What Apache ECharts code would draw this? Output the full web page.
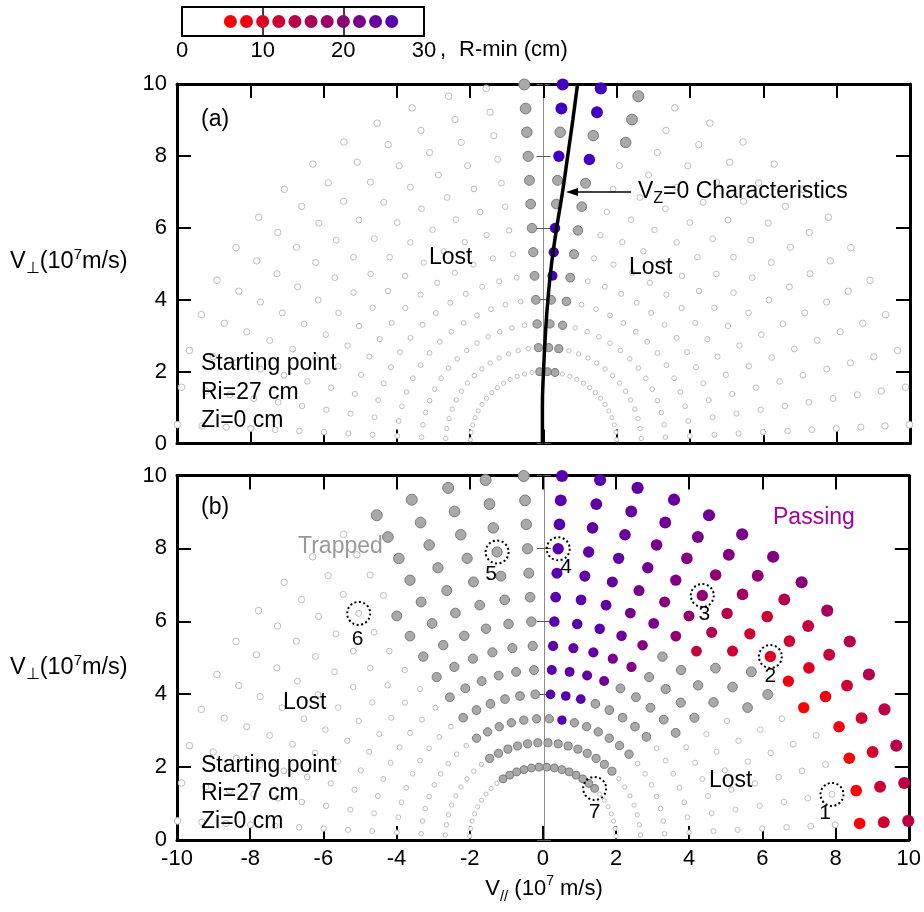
<!DOCTYPE html>
<html>
<head>
<meta charset="utf-8">
<title>Orbit classification in velocity space</title>
<script src="https://cdn.jsdelivr.net/npm/echarts@6.0.0/dist/echarts.min.js"></script>
<style>
  html, body { margin: 0; padding: 0; background: #fff; }
  #chart { width: 924px; height: 912px; }
</style>
</head>
<body>
<div id="chart"></div>
<script>
// ---------------- data ----------------
// launch speeds (10^7 m/s) and pitch angles (deg) of the test orbits
const speeds = [2.00, 2.67, 3.33, 4.00, 4.67, 5.33, 6.00, 6.67, 7.33, 8.00, 8.67, 9.33, 10.00];
const pitchAngles = [3, 9, 15, 21, 27, 33, 39, 45, 51, 57, 63, 69, 75, 81, 87,
                     93, 99, 105, 111, 117, 123, 129, 135, 141, 147, 153, 159, 165, 171, 177];

// R-min values shown in the colour key (cm)
const keyRmin = [6, 8, 10, 12, 14, 16, 18, 20, 22, 24, 26];

// (a) trapped orbits: [speed, [from, to] pitch-angle ranges ...]
const trappedA = [
  [10.00, [75, 75], [93, 93]],
  [9.33, [75, 75], [93, 93]],
  [8.67, [75, 93]],
  [8.00, [93, 93]],
  [7.33, [81, 93]],
  [6.67, [81, 93]],
  [6.00, [81, 81], [93, 93]],
  [5.33, [81, 81], [93, 93]],
  [4.67, [81, 81], [93, 93]],
  [4.00, [81, 93]],
  [3.33, [81, 93]],
  [2.67, [81, 93]],
  [2.00, [81, 93]]
];
// (a) passing orbits: [speed, first pitch angle, R-min (cm) for consecutive pitch angles]
const passingA = [
  [10.00, 81, [27, 27]],
  [9.33, 81, [27, 27]],
  [8.00, 81, [27, 27]],
  [6.00, 87, [27]],
  [5.33, 87, [27]],
  [4.67, 87, [27]]
];

// (b) trapped orbits
const trappedB = [
  [10.00, [93, 117]],
  [9.33, [93, 117]],
  [8.67, [93, 117]],
  [8.00, [93, 117]],
  [7.33, [33, 39], [93, 123]],
  [6.67, [33, 45], [93, 123]],
  [6.00, [39, 57], [93, 123]],
  [5.33, [39, 57], [93, 123]],
  [4.67, [39, 63], [93, 123]],
  [4.00, [45, 69], [93, 123]],
  [3.33, [45, 75], [87, 123]],
  [2.67, [45, 123]],
  [2.00, [45, 123]]
];
// (b) passing orbits
const passingB = [
  [10.00, 3, [14, 14, 15, 14, 15, 15, 17, 20, 21, 22, 23, 24, 25, 26, 26]],
  [9.33, 3, [12, 12, 11, 12, 12, 13, 13, 15, 19, 21, 22, 23, 24, 25, 26]],
  [8.67, 3, [6, 6, 6, 7, 8, 10, 12, 12, 17, 19, 21, 22, 24, 25, 26]],
  [8.00, 27, [6, 8, 10, 12, 15, 19, 21, 23, 25, 25, 26]],
  [7.33, 45, [12, 15, 19, 20, 22, 25, 25, 26]],
  [6.67, 51, [13, 19, 22, 22, 25, 26, 26]],
  [6.00, 63, [21, 24, 26, 26, 26]],
  [5.33, 63, [21, 22, 25, 25, 26]],
  [4.67, 69, [23, 25, 25, 26]],
  [4.00, 75, [26, 26, 26]],
  [3.33, 81, [26]]
];

// V_Z = 0 characteristic drawn in panel (a): [V//, V_perp]
const vz0Curve = [[-0.03, 0], [-0.03, 1], [0.0, 2], [0.05, 3], [0.12, 4], [0.22, 5],
                  [0.36, 6], [0.52, 7], [0.66, 8], [0.80, 9], [0.93, 10]];

// numbered example orbits in panel (b): [label, speed, pitch angle]
const exampleOrbits = [['1', 8.00, 9], ['2', 8.00, 39], ['3', 8.00, 57], ['4', 8.00, 87],
                       ['5', 8.00, 99], ['6', 8.00, 129], ['7', 2.00, 45]];

// ---------------- styling ----------------
const FONT = '"Liberation Sans", Arial, Helvetica, sans-serif';
const gridKey = { left: 182, top: 7, width: 242, height: 29 };
const gridA = { left: 177, top: 84, width: 733, height: 359.5 };
const gridB = { left: 177, top: 475.5, width: 734, height: 364.5 };

// colour ramp for R-min: red -> purple -> blue
const rminPalette = [[6, [255, 0, 0]], [26, [88, 0, 172]], [28, [48, 0, 214]]];
function rminColor(v) {
  let i = 0;
  while (i < rminPalette.length - 2 && v > rminPalette[i + 1][0]) i++;
  const [v0, c0] = rminPalette[i], [v1, c1] = rminPalette[i + 1];
  const t = Math.max(0, Math.min(1, (v - v0) / (v1 - v0)));
  return 'rgb(' + c0.map((c, k) => Math.round(c + (c1[k] - c) * t)).join(',') + ')';
}

// label offsets of the numbered example orbits (px)
const exampleLabelOffset = { '1': [-7, 19], '2': [0, 20], '3': [2, 19], '4': [8, 18],
                             '5': [-6, 22], '6': [-1, 26], '7': [0, 24] };

// ---------------- build point sets ----------------
function inRanges(ranges, a) { return ranges.some(([lo, hi]) => a >= lo && a <= hi); }
function toXY(v, deg) {
  const t = deg * Math.PI / 180;
  return [v * Math.cos(t), v * Math.sin(t)];
}
function buildPanel(trapped, passing) {
  const out = { lost: [], trapped: [], passing: [] };
  speeds.forEach(v => {
    const tr = trapped.find(e => e[0] === v);
    const ps = passing.find(e => e[0] === v);
    pitchAngles.forEach((a, j) => {
      const [x, y] = toXY(v, a);
      if (ps) {
        const k = j - pitchAngles.indexOf(ps[1]);
        if (k >= 0 && k < ps[2].length) {
          out.passing.push({ value: [x, y, v, ps[2][k]],
                             itemStyle: { color: rminColor(ps[2][k]), opacity: 1 } });
          return;
        }
      }
      if (tr && inRanges(tr.slice(1), a)) out.trapped.push([x, y, v]);
      else out.lost.push([x, y, v]);
    });
  });
  return out;
}
const panelA = buildPanel(trappedA, passingA);
const panelB = buildPanel(trappedB, passingB);

function orbitSeries(p, xi, yi) {
  return [
    { type: 'scatter', xAxisIndex: xi, yAxisIndex: yi, data: p.lost, z: 2, clip: false, silent: true,
      symbolSize: d => 3.6 + 0.3 * d[2],
      itemStyle: { color: '#ffffff', borderColor: '#bdbdbd', borderWidth: 1, opacity: 1 } },
    { type: 'scatter', xAxisIndex: xi, yAxisIndex: yi, data: p.trapped, z: 3, clip: false, silent: true,
      symbolSize: d => 7 + 0.4 * d[2],
      itemStyle: { color: '#a9a9a9', borderColor: '#7a7a7a', borderWidth: 1, opacity: 1 } },
    { type: 'scatter', xAxisIndex: xi, yAxisIndex: yi, data: p.passing, z: 4, clip: false, silent: true,
      symbolSize: d => 8 + 0.42 * d[2], itemStyle: { opacity: 1 } }
  ];
}

// ---------------- axes ----------------
function frameX(gridIndex, position, labels) {
  return {
    type: 'value', gridIndex, position, min: -10, max: 10, interval: 2,
    axisLine: { show: true, onZero: false, lineStyle: { color: '#000', width: 3 } },
    axisTick: { show: true, inside: true, length: 14, lineStyle: { color: '#000', width: 2 } },
    axisLabel: { show: labels, color: '#000', fontSize: 22, fontFamily: FONT, margin: 8 },
    splitLine: { show: false }
  };
}
function frameY(gridIndex, position, labels) {
  return {
    type: 'value', gridIndex, position, min: 0, max: 10, interval: 2,
    axisLine: { show: true, onZero: false, lineStyle: { color: '#000', width: 3 } },
    axisTick: { show: true, inside: true, length: 14, lineStyle: { color: '#000', width: 2 } },
    axisLabel: { show: labels, color: '#000', fontSize: 22, fontFamily: FONT, margin: 10 },
    splitLine: { show: false }
  };
}
// thin axis through V// = 0 with short ticks on both sides
function centreY(gridIndex, grid, inside) {
  return {
    type: 'value', gridIndex, position: 'left', offset: -grid.width / 2, min: 0, max: 10, interval: 2,
    axisLine: { show: true, onZero: false, lineStyle: { color: '#8c8c8c', width: 1 } },
    axisTick: { show: true, inside, length: 7, lineStyle: { color: '#555', width: 1 } },
    axisLabel: { show: false }, splitLine: { show: false }
  };
}

const xAxes = [
  { type: 'value', gridIndex: 0, min: 0, max: 30, interval: 10,
    axisLine: { show: false }, axisTick: { show: false },
    axisLabel: { color: '#000', fontSize: 22, fontFamily: FONT, margin: 4 },
    splitLine: { show: true, lineStyle: { color: '#000', width: 1.5 } } },
  frameX(1, 'bottom', false), frameX(1, 'top', false),
  frameX(2, 'bottom', true), frameX(2, 'top', false)
];
const yAxes = [
  { type: 'value', gridIndex: 0, min: 0, max: 1, show: false },
  frameY(1, 'left', true), frameY(1, 'right', false), centreY(1, gridA, true), centreY(1, gridA, false),
  frameY(2, 'left', true), frameY(2, 'right', false), centreY(2, gridB, true), centreY(2, gridB, false)
];

// ---------------- texts ----------------
function richStyles(size) {
  return {
    v: { fontSize: size, fontFamily: FONT, lineHeight: 30, verticalAlign: 'middle', fill: '#000' },
    sub: { fontSize: Math.round(size * 0.68), fontFamily: FONT, lineHeight: 14, verticalAlign: 'bottom', fill: '#000' },
    sup: { fontSize: Math.round(size * 0.62), fontFamily: FONT, lineHeight: 14, verticalAlign: 'top', fill: '#000' }
  };
}

function label(text, x, y, opts) {
  return { type: 'text', z: 100, silent: true,
    style: Object.assign({ text, x, y, fontSize: 23, fontFamily: FONT, fill: '#000',
      align: 'left', verticalAlign: 'middle' }, opts || {}) };
}
function richLabel(text, x, y, size, align) {
  return { type: 'text', z: 100, silent: true,
    style: { text, x, y, align: align || 'left', verticalAlign: 'middle', rich: richStyles(size) } };
}

const graphics = [
  label(',', 440, 50, { fontSize: 22 }),
  label('R-min (cm)', 459, 50, { fontSize: 22 }),
  // panel (a)
  label('(a)', 201, 120),
  label('Lost', 429, 258),
  label('Lost', 629, 268),
  label('Starting point', 201, 364),
  label('Ri=27 cm', 201, 393),
  label('Zi=0 cm', 201, 421),
  richLabel('{v|V}{sub|Z}{v|=0 Characteristics}', 638, 192, 23),
  { type: 'line', z: 100, silent: true, shape: { x1: 574, y1: 192, x2: 631, y2: 192 },
    style: { stroke: '#000', lineWidth: 1.5 } },
  { type: 'polygon', z: 100, silent: true, shape: { points: [[566, 192], [578, 188], [578, 196]] },
    style: { fill: '#000' } },
  // panel (b)
  label('(b)', 201, 508),
  label('Trapped', 298, 547, { fill: '#999999' }),
  label('Passing', 773, 518, { fill: '#a000a0' }),
  label('Lost', 283, 703),
  label('Lost', 709, 781),
  label('Starting point', 201, 766),
  label('Ri=27 cm', 201, 794),
  label('Zi=0 cm', 201, 822),
  // axis titles
  richLabel('{v|V}{sub|\u22A5}{v|(10}{sup|7}{v|m/s)}', 10, 262, 23.5),
  richLabel('{v|V}{sub|\u22A5}{v|(10}{sup|7}{v|m/s)}', 10, 668, 23.5),
  richLabel('{v|V}{sub|//}{v| (10}{sup|7}{v| m/s)}', 544, 889, 22, 'center')
];

// ---------------- series ----------------
const series = [
  { type: 'scatter', xAxisIndex: 0, yAxisIndex: 0, silent: true, z: 4,
    data: keyRmin.map(v => ({ value: [v, 0.5], itemStyle: { color: rminColor(v), opacity: 1 } })),
    symbolSize: 13 },
  ...orbitSeries(panelA, 1, 1),
  { type: 'line', xAxisIndex: 1, yAxisIndex: 1, data: vz0Curve, smooth: true, symbol: 'none',
    z: 6, silent: true, clip: false, lineStyle: { color: '#000', width: 3.5 } },
  ...orbitSeries(panelB, 3, 5),
  { type: 'scatter', xAxisIndex: 3, yAxisIndex: 5, silent: true, z: 7, clip: false,
    data: exampleOrbits.map(([name, v, a]) => ({
      value: toXY(v, a), name,
      label: { show: true, formatter: name, position: 'inside', offset: exampleLabelOffset[name],
               color: '#000', fontSize: 21, fontFamily: FONT }
    })),
    symbol: 'circle', symbolSize: 23,
    itemStyle: { color: 'rgba(0,0,0,0)', borderColor: '#000', borderWidth: 2, borderType: [2, 2.5], opacity: 1 } }
];

const chart = echarts.init(document.getElementById('chart'), null, { renderer: 'canvas' });
chart.setOption({
  animation: false,
  backgroundColor: '#ffffff',
  grid: [
    Object.assign({ show: true, borderColor: '#000', borderWidth: 2, backgroundColor: 'transparent' }, gridKey),
    gridA, gridB
  ],
  xAxis: xAxes,
  yAxis: yAxes,
  series,
  graphic: graphics
});
</script>
</body>
</html>
